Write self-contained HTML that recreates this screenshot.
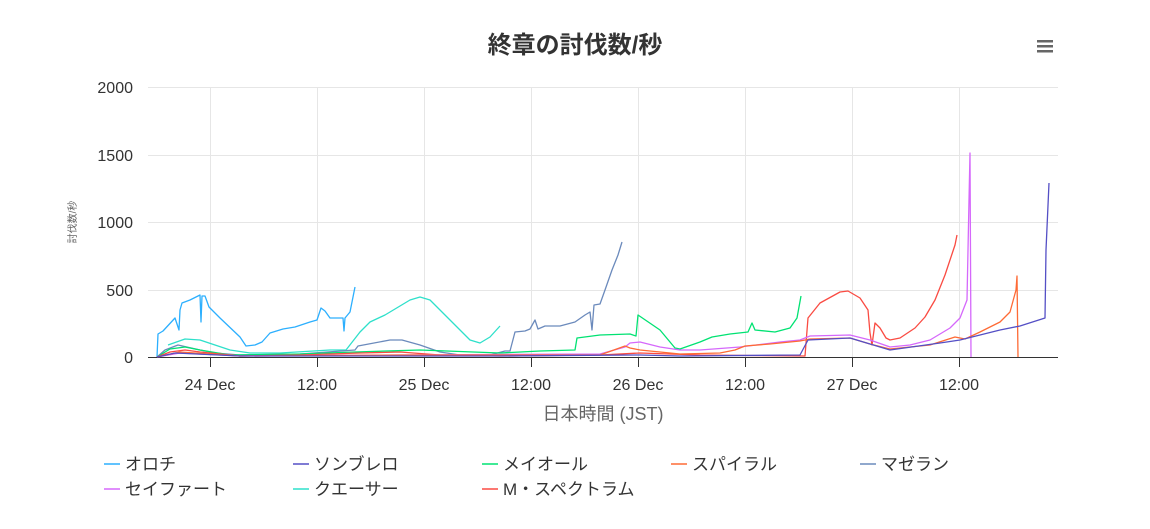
<!DOCTYPE html>
<html><head><meta charset="utf-8"><style>
body{margin:0;background:#fff;font-family:"Liberation Sans","Noto Sans CJK JP",sans-serif}
</style></head><body>
<svg width="1150" height="524" xmlns="http://www.w3.org/2000/svg" font-family="Liberation Sans, Noto Sans CJK JP, sans-serif">
<rect width="1150" height="524" fill="#fff"/>
<text x="575" y="53" text-anchor="middle" font-size="24" font-weight="bold" fill="#333">終章の討伐数/秒</text>
<g fill="#666"><rect x="1037" y="40" width="16" height="2.5"/><rect x="1037" y="45" width="16" height="2.5"/><rect x="1037" y="50" width="16" height="2.5"/></g>
<g stroke="#e6e6e6" stroke-width="1">
<line x1="148" x2="1058" y1="87.5" y2="87.5"/><line x1="148" x2="1058" y1="155.5" y2="155.5"/><line x1="148" x2="1058" y1="222.5" y2="222.5"/><line x1="148" x2="1058" y1="290.5" y2="290.5"/>
<line x1="210.5" x2="210.5" y1="87" y2="357"/><line x1="317.5" x2="317.5" y1="87" y2="357"/><line x1="424.5" x2="424.5" y1="87" y2="357"/><line x1="531.5" x2="531.5" y1="87" y2="357"/><line x1="638.5" x2="638.5" y1="87" y2="357"/><line x1="745.5" x2="745.5" y1="87" y2="357"/><line x1="852.5" x2="852.5" y1="87" y2="357"/><line x1="959.5" x2="959.5" y1="87" y2="357"/>
</g>
<line x1="148" x2="1058" y1="357.5" y2="357.5" stroke="#333"/>
<g stroke="#333"><line x1="210.5" x2="210.5" y1="357" y2="367"/><line x1="317.5" x2="317.5" y1="357" y2="367"/><line x1="424.5" x2="424.5" y1="357" y2="367"/><line x1="531.5" x2="531.5" y1="357" y2="367"/><line x1="638.5" x2="638.5" y1="357" y2="367"/><line x1="745.5" x2="745.5" y1="357" y2="367"/><line x1="852.5" x2="852.5" y1="357" y2="367"/><line x1="959.5" x2="959.5" y1="357" y2="367"/></g>
<g font-size="16" fill="#333" text-anchor="end"><text x="133" y="93">2000</text><text x="133" y="161">1500</text><text x="133" y="228">1000</text><text x="133" y="296">500</text><text x="133" y="363">0</text></g>
<g font-size="16" fill="#333" text-anchor="middle"><text x="210" y="390">24 Dec</text><text x="317" y="390">12:00</text><text x="424" y="390">25 Dec</text><text x="531" y="390">12:00</text><text x="638" y="390">26 Dec</text><text x="745" y="390">12:00</text><text x="852" y="390">27 Dec</text><text x="959" y="390">12:00</text></g>
<text x="603" y="420" text-anchor="middle" font-size="18" fill="#666">日本時間 (JST)</text>
<text transform="translate(76,222) rotate(-90)" text-anchor="middle" font-size="10" fill="#666">討伐数/秒</text>
<g fill="none" stroke-width="1.3" stroke-linejoin="round">
<polyline stroke="#2ee0ca" points="168,345 185,339 200,340 230,350 250,353 280,353 330,350 346,350 360,332 370,322 385,315 410,300 420,297 430,300 450,320 470,340 480,343 490,337 500,326"/>
<polyline stroke="#6b8abc" points="157,357 165,350 178,345 200,350 215,353 240,355 300,354 355,350 358,346 390,340 402,340 420,345 440,352 460,355 490,355 505,351 510,351 515,332 525,331 530,329 535,320 538,329 545,326 560,326 575,322 585,315 590,312 592,330 594,305 600,304 605,290 612,270 618,255 622,242"/>
<polyline stroke="#2caffe" points="157,357 158,334 163,331 175,318 179,330 180,310 182,303 190,300 200,295 201,322 202,296 205,296 209,307 220,318 240,337 246,346 255,345 262,342 270,333 283,329 295,327 310,322 317,320 321,308 325,311 330,318 343,318 344,331 345,318 350,312 355,287"/>
<polyline stroke="#00e272" points="157,357 170,349 185,347 200,350 230,355 300,354 355,352 420,350 500,353 540,351 575,350 577,338 600,335 630,334 636,336 638,315 660,330 675,348 680,349 700,342 712,337 730,334 748,332 752,323 755,330 775,332 790,328 797,318 801,296"/>
<polyline stroke="#fa4b42" points="157,357 170,352 185,350 200,352 240,356 300,355 360,353 400,352 440,355 500,356 600,355 640,353 700,355 805,356 808,318 820,303 840,292 848,291 860,298 868,310 870,333 872,345 875,323 880,328 886,338 890,340 900,338 915,328 925,317 935,300 945,275 955,245 957,235"/>
<polyline stroke="#d568fb" points="157,357 180,353 240,356 400,355 600,354 625,347 630,343 640,342 660,347 680,350 700,350 740,347 780,342 800,340 810,336 850,335 870,340 890,347 910,345 930,340 950,328 960,318 967,300 969,200 970,153 971,357"/>
<polyline stroke="#fe6a35" points="157,357 180,352 240,356 400,355 600,355 625,346 630,348 640,350 680,354 720,353 735,350 745,346 770,344 800,341 810,339 850,338 870,344 890,349 930,345 955,337 965,339 980,332 1000,322 1010,312 1016,290 1017,276 1018,357"/>
<polyline stroke="#544fc5" points="157,357 175,353 240,356 500,356 640,355 680,356 800,355 808,340 850,338 870,344 890,350 940,343 960,340 1000,330 1020,326 1045,318 1046,250 1049,183"/>
</g>
<g font-size="17" fill="#333">
<line x1="104" x2="120" y1="464" y2="464" stroke="#2caffe" stroke-width="1.5"/><text x="125" y="470">オロチ</text>
<line x1="293" x2="309" y1="464" y2="464" stroke="#544fc5" stroke-width="1.5"/><text x="314" y="470">ソンブレロ</text>
<line x1="482" x2="498" y1="464" y2="464" stroke="#00e272" stroke-width="1.5"/><text x="503" y="470">メイオール</text>
<line x1="671" x2="687" y1="464" y2="464" stroke="#fe6a35" stroke-width="1.5"/><text x="692" y="470">スパイラル</text>
<line x1="860" x2="876" y1="464" y2="464" stroke="#6b8abc" stroke-width="1.5"/><text x="881" y="470">マゼラン</text>
<line x1="104" x2="120" y1="489" y2="489" stroke="#d568fb" stroke-width="1.5"/><text x="125" y="495">セイファート</text>
<line x1="293" x2="309" y1="489" y2="489" stroke="#2ee0ca" stroke-width="1.5"/><text x="314" y="495">クエーサー</text>
<line x1="482" x2="498" y1="489" y2="489" stroke="#fa4b42" stroke-width="1.5"/><text x="503" y="495">M・スペクトラム</text>
</g>
</svg>
</body></html>
